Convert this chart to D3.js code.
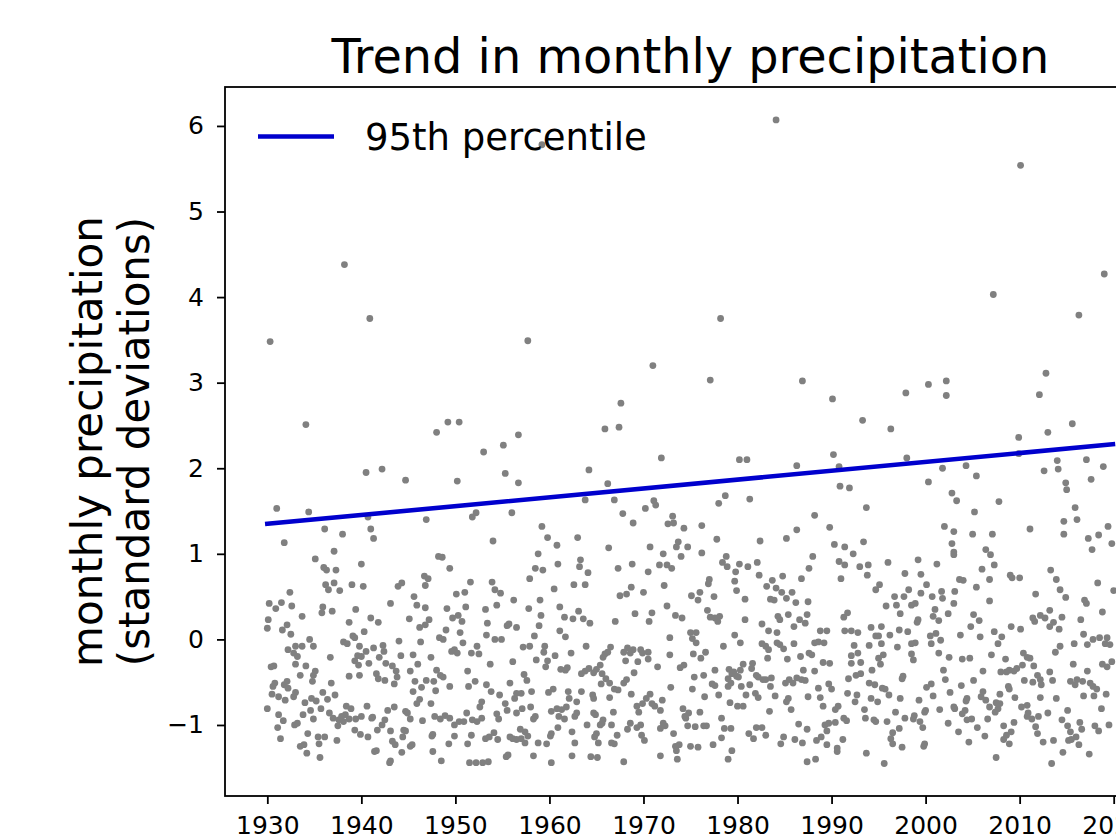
<!DOCTYPE html>
<html>
<head>
<meta charset="utf-8">
<script src="https://cdn.jsdelivr.net/npm/d3@7"></script>
<style>
  body { margin: 0; background: #fff; }
  svg { display: block; }
  text { font-family: "DejaVu Sans", sans-serif; fill: #000; }
</style>
</head>
<body>
<svg id="trendChart" width="1116" height="838"></svg>
<script>
// monthly precipitation anomalies, [year, standard deviations]
const points1930s = [
  [1931.0,1.53],[1934.4,1.49],[1931.8,1.13],[1936.1,1.29],[1938.0,1.23],[1940.7,1.43],[1941.0,1.29],[1941.3,1.18],
  [1937.1,1.03],[1935.1,0.94],[1936.0,0.84],[1936.3,0.81],[1937.3,0.81],[1940.0,0.88],
  [1936.2,0.64],[1936.5,0.58],[1937.1,0.66],[1937.7,0.57],[1939.0,0.64],[1940.2,0.62],[1932.4,0.55],
  [1930.2,0.42],[1930.9,0.36],[1931.5,0.43],[1932.6,0.39],[1935.9,0.38],[1935.8,0.31],[1936.9,0.33],[1939.4,0.35],
  [1933.7,0.27],[1930.1,0.23],[1930.0,0.13],[1932.1,0.17],[1931.6,0.11],[1932.5,0.06],[1938.7,0.20],[1941.0,0.25],
  [1940.3,0.09],[1939.1,0.04],[1939.3,0.02],[1934.5,0.00],[1934.9,-0.08],[1938.1,-0.03],[1938.5,-0.05],[1939.8,-0.08],
  [1932.2,-0.12],[1933.0,-0.08],[1933.7,-0.08],[1932.8,-0.16],[1933.2,-0.20],
  [1940.5,-0.14],[1939.6,-0.19],[1940.0,-0.20],[1939.3,-0.25],[1939.7,-0.30],[1940.8,-0.28],[1936.7,-0.21],
  [1933.0,-0.29],[1934.1,-0.31],[1930.4,-0.32],[1930.7,-0.31],[1935.1,-0.37],[1934.9,-0.42],[1934.8,-0.49],[1933.5,-0.42],
  [1938.7,-0.43],[1939.8,-0.42],
  [1930.8,-0.51],[1930.6,-0.55],[1932.1,-0.49],[1931.8,-0.53],[1932.2,-0.57],
  [1930.5,-0.64],[1931.2,-0.67],[1931.9,-0.71],[1932.8,-0.67],[1933.0,-0.62],[1936.8,-0.51],
  [1935.9,-0.62],[1937.2,-0.65],[1936.4,-0.70],[1934.0,-0.74],[1934.7,-0.69],[1935.2,-0.72],[1935.7,-0.81],
  [1930.0,-0.81],[1931.2,-0.88],[1931.7,-0.95],[1931.1,-1.03],[1931.4,-1.16],
  [1933.8,-0.88],[1934.6,-0.83],[1934.9,-0.93],
  [1936.6,-0.86],[1937.0,-0.92],[1937.6,-0.94],[1937.9,-0.90],[1938.3,-0.88],[1938.7,-0.93],[1938.1,-0.96],
  [1938.4,-0.78],[1938.9,-0.81],[1939.4,-0.93],[1940.0,-0.90],[1940.6,-0.78],[1941.1,-0.92],
  [1932.9,-1.00],[1933.2,-0.98],[1934.3,-1.10],[1937.5,-1.01],[1939.3,-1.06],[1939.9,-1.11],[1940.7,-1.14],
  [1935.4,-1.14],[1936.1,-1.14],[1935.5,-1.22],[1937.4,-1.18],[1933.5,-1.25],[1933.9,-1.23],[1934.2,-1.33],
  [1935.6,-1.38],[1941.4,-1.31]
];

const points1940s = [
  [1946.9,1.40],[1951.8,1.43],[1952.2,1.48],[1956.0,1.48],[1954.0,1.15],[1948.2,0.97],[1948.6,0.96],[1949.4,0.83],
  [1946.7,0.74],[1947.1,0.71],[1946.8,0.63],[1943.9,0.62],[1944.3,0.66],[1951.6,0.67],[1953.9,0.67],[1954.2,0.58],[1954.8,0.54],
  [1950.1,0.53],[1951.0,0.55],[1945.6,0.50],[1945.9,0.40],[1946.8,0.37],[1943.1,0.42],[1949.1,0.36],[1951.1,0.38],[1953.2,0.35],[1954.4,0.40],[1956.2,0.46],
  [1941.8,0.20],[1945.1,0.24],[1947.2,0.23],[1946.8,0.17],[1946.2,0.14],[1949.7,0.25],[1950.3,0.28],[1950.7,0.21],[1953.4,0.19],
  [1955.5,0.16],[1955.7,0.18],[1956.5,0.14],[1949.0,0.11],[1948.3,0.02],[1948.7,0.00],[1950.5,0.08],[1953.3,0.05],[1954.2,0.00],[1954.9,0.00],
  [1944.0,-0.02],[1946.3,-0.03],[1950.8,-0.04],[1952.3,-0.08],[1941.3,-0.10],[1942.3,-0.07],[1942.4,-0.14],[1941.9,-0.21],
  [1944.2,-0.19],[1945.5,-0.18],[1947.4,-0.21],[1949.6,-0.14],[1949.9,-0.12],[1950.2,-0.16],[1951.7,-0.16],[1952.5,-0.17],
  [1942.6,-0.28],[1943.3,-0.31],[1943.7,-0.37],[1943.8,-0.44],[1941.6,-0.40],[1941.8,-0.46],[1942.5,-0.48],
  [1946.0,-0.29],[1945.2,-0.37],[1948.0,-0.36],[1948.4,-0.42],[1948.7,-0.44],[1951.3,-0.37],[1953.7,-0.29],[1956.1,-0.26],
  [1943.5,-0.52],[1945.7,-0.49],[1946.9,-0.48],[1947.7,-0.49],[1946.4,-0.56],[1947.9,-0.60],[1945.5,-0.61],[1949.4,-0.55],
  [1951.4,-0.55],[1952.1,-0.49],[1953.3,-0.53],[1953.8,-0.61],[1955.8,-0.51],[1954.7,-0.65],[1956.5,-0.63],
  [1946.2,-0.70],[1945.9,-0.75],[1947.4,-0.75],[1952.8,-0.73],[1952.6,-0.79],[1955.3,-0.75],[1955.5,-0.83],[1956.3,-0.69],
  [1941.2,-0.91],[1943.5,-0.79],[1942.8,-0.83],[1942.5,-0.94],[1942.2,-1.00],[1941.7,-1.06],
  [1944.7,-0.84],[1944.9,-0.86],[1945.2,-0.93],[1946.5,-0.95],[1947.8,-0.90],[1948.4,-0.93],[1948.9,-0.89],[1949.4,-0.92],
  [1949.9,-1.00],[1950.4,-0.96],[1950.9,-0.96],[1951.2,-0.86],[1951.8,-0.94],[1952.3,-0.96],[1952.8,-0.92],[1954.4,-0.87],[1954.6,-0.93],[1956.5,-0.86],
  [1943.1,-1.07],[1944.5,-1.06],[1944.7,-1.07],[1944.4,-1.14],[1947.6,-1.11],[1947.5,-1.13],[1949.9,-1.13],[1949.3,-1.22],
  [1951.7,-1.12],[1951.3,-1.22],[1953.2,-1.16],[1953.6,-1.14],[1954.1,-1.09],[1954.5,-1.17],[1955.8,-1.14],[1956.1,-1.16],[1956.5,-1.17],
  [1941.6,-1.30],[1943.3,-1.19],[1943.6,-1.23],[1944.3,-1.32],[1945.2,-1.25],[1945.4,-1.23],[1947.6,-1.31],
  [1943.0,-1.44],[1943.1,-1.42],[1948.5,-1.42],[1951.5,-1.44],[1952.2,-1.44],[1952.9,-1.44],[1953.5,-1.43],[1955.4,-1.37],[1955.6,-1.35]
];

const points1950s = [
  [1967.8,1.47],[1968.9,1.36],[1970.2,1.53],[1971.3,1.57],[1959.2,1.32],[1959.8,1.19],[1960.8,1.10],[1963.0,1.19],
  [1958.8,1.00],[1966.3,1.07],[1970.7,1.08],[1972.1,1.00],[1963.3,0.93],[1963.2,0.85],[1964.1,0.78],[1960.9,0.88],
  [1958.5,0.83],[1959.3,0.81],[1957.9,0.71],[1960.5,0.59],[1962.6,0.64],[1963.8,0.64],[1967.3,0.83],[1968.8,0.88],[1970.5,0.79],[1971.7,0.87],[1972.2,0.63],
  [1967.5,0.51],[1968.2,0.53],[1968.7,0.61],[1970.0,0.55],[1959.0,0.46],[1957.8,0.36],[1961.1,0.38],[1959.1,0.28],
  [1961.6,0.26],[1962.5,0.24],[1963.1,0.33],[1963.6,0.24],[1964.3,0.19],[1967.0,0.21],[1969.1,0.30],[1970.9,0.31],[1970.6,0.21],
  [1958.9,0.16],[1958.4,0.04],[1961.1,0.10],[1961.7,0.03],[1957.2,-0.09],[1957.9,-0.08],[1959.5,-0.08],[1959.4,-0.15],[1963.9,-0.08],[1966.5,-0.09],
  [1960.6,-0.19],[1962.3,-0.16],[1958.6,-0.24],[1959.8,-0.25],[1959.6,-0.32],[1965.4,-0.30],[1965.7,-0.21],[1965.9,-0.17],[1966.2,-0.15],
  [1968.3,-0.10],[1967.9,-0.15],[1968.6,-0.16],[1968.1,-0.25],[1968.9,-0.12],[1969.7,-0.12],[1969.9,-0.16],[1970.5,-0.15],[1970.5,-0.23],[1969.4,-0.26],[1971.5,-0.32],
  [1961.2,-0.35],[1961.7,-0.36],[1961.9,-0.33],[1963.4,-0.40],[1963.8,-0.37],[1964.2,-0.34],[1964.7,-0.39],[1965.0,-0.35],
  [1957.3,-0.41],[1957.6,-0.48],[1965.6,-0.40],[1966.0,-0.46],[1966.4,-0.51],[1965.5,-0.52],[1966.9,-0.58],[1967.3,-0.59],
  [1968.2,-0.47],[1967.9,-0.51],[1969.0,-0.39],[1957.0,-0.63],[1958.1,-0.61],[1959.9,-0.62],[1960.4,-0.58],
  [1962.0,-0.61],[1962.1,-0.69],[1962.9,-0.73],[1963.4,-0.61],[1964.6,-0.65],[1964.7,-0.69],[1966.4,-0.68],[1968.7,-0.64],
  [1970.7,-0.64],[1970.3,-0.69],[1970.9,-0.75],[1971.2,-0.78],[1972.0,-0.71],[1969.3,-0.78],[1969.5,-0.85],[1969.9,-0.75],
  [1957.1,-0.81],[1958.0,-0.79],
  [1958.5,-0.90],[1958.3,-0.93],[1960.2,-0.84],[1960.8,-0.81],[1961.3,-0.82],[1961.8,-0.79],[1961.0,-0.90],[1961.6,-0.93],
  [1962.7,-0.90],[1962.9,-0.86],[1964.7,-0.86],[1964.9,-0.88],[1965.7,-0.94],[1965.4,-1.00],[1965.6,-0.98],[1966.8,-0.85],[1964.0,-1.00],[1966.6,-1.00],
  [1956.9,-1.05],[1957.4,-1.08],[1957.7,-1.13],[1957.0,-1.16],[1957.4,-1.21],[1958.8,-1.21],[1959.7,-1.22],[1960.1,-1.13],[1960.2,-1.10],
  [1960.9,-1.03],[1962.4,-1.08],[1962.7,-1.21],[1964.8,-1.14],[1965.0,-1.10],[1965.2,-1.21],[1967.2,-1.12],[1966.6,-1.21],[1966.9,-1.22],
  [1968.3,-1.05],[1968.6,-0.98],[1969.3,-1.03],[1969.7,-1.00],[1969.8,-1.12],[1970.1,-1.18],[1972.1,-0.98],
  [1958.3,-1.36],[1960.2,-1.44],[1962.4,-1.36],[1964.4,-1.37],[1965.1,-1.38],[1967.9,-1.43],[1971.8,-1.36]
];

const points1970s = [
  [1973.1,1.44],[1972.6,1.35],[1973.2,1.36],[1974.3,1.30],[1976.2,1.33],[1977.8,1.17],[1982.4,1.15],[1985.2,1.18],[1986.3,1.28],
  [1973.7,1.14],[1973.5,1.08],[1974.7,1.08],[1974.0,0.97],
  [1976.2,1.01],[1978.8,0.97],[1978.4,0.90],[1978.9,0.85],[1980.2,0.88],[1981.1,0.85],[1982.1,0.90],[1979.8,0.79],[1972.5,0.87],[1973.0,0.83],
  [1977.0,0.70],[1976.9,0.65],[1979.7,0.68],[1979.9,0.57],[1982.3,0.75],[1983.1,0.62],[1983.7,0.69],[1984.1,0.60],[1984.8,0.74],[1986.8,0.71],[1987.6,0.83],
  [1975.1,0.51],[1975.8,0.46],[1976.0,0.55],[1977.5,0.50],[1980.8,0.47],[1983.5,0.47],[1983.9,0.46],[1984.7,0.55],[1985.2,0.48],[1985.8,0.55],[1986.2,0.43],[1987.5,0.44],
  [1972.5,0.39],[1976.8,0.34],[1977.1,0.26],[1977.6,0.25],[1978.1,0.27],[1977.9,0.21],[1980.8,0.23],[1973.4,0.28],[1974.1,0.25],
  [1984.3,0.27],[1984.5,0.23],[1985.4,0.29],[1986.6,0.23],[1987.2,0.19],[1987.4,0.29],[1982.6,0.18],[1986.0,0.15],
  [1975.0,0.08],[1975.6,0.08],[1975.2,0.01],[1975.6,-0.04],[1972.8,0.02],[1979.7,0.05],[1980.3,-0.04],[1978.5,-0.08],
  [1983.3,0.10],[1984.2,0.08],[1982.6,-0.05],[1983.0,-0.08],[1983.3,-0.12],[1984.2,-0.04],[1984.5,-0.06],[1984.9,-0.11],[1986.0,-0.05],[1987.6,-0.16],
  [1972.8,-0.18],[1975.3,-0.17],[1976.1,-0.22],[1976.6,-0.15],[1973.9,-0.33],[1974.3,-0.30],[1977.6,-0.36],
  [1980.6,-0.29],[1980.3,-0.36],[1981.6,-0.28],[1981.5,-0.34],[1979.1,-0.35],[1979.6,-0.38],[1979.4,-0.40],[1982.0,-0.42],[1982.2,-0.44],[1983.2,-0.22],
  [1985.3,-0.23],[1986.7,-0.20],[1987.0,-0.36],[1975.4,-0.44],[1976.4,-0.42],[1977.3,-0.52],[1977.6,-0.54],
  [1979.0,-0.46],[1979.3,-0.51],[1979.9,-0.43],[1980.1,-0.44],[1979.0,-0.55],[1980.4,-0.55],[1981.3,-0.53],[1980.9,-0.65],
  [1982.7,-0.47],[1983.0,-0.47],[1983.6,-0.45],[1983.5,-0.55],[1984.0,-0.66],
  [1985.1,-0.51],[1985.5,-0.47],[1985.9,-0.51],[1986.3,-0.45],[1986.8,-0.47],[1987.2,-0.48],[1987.5,-0.67],
  [1972.9,-0.56],[1975.2,-0.58],[1976.5,-0.67],[1978.0,-0.65],[1981.9,-0.63],[1982.2,-0.68],[1971.8,-0.83],
  [1979.2,-0.74],[1980.0,-0.78],[1980.6,-0.78],[1985.4,-0.69],[1985.2,-0.73],[1985.7,-0.82],[1983.4,-0.84],
  [1974.2,-0.81],[1974.4,-0.90],[1974.8,-0.86],[1974.5,-0.92],[1976.0,-0.85],[1978.3,-0.92],[1971.8,-1.04],[1972.3,-1.01],
  [1974.7,-1.01],[1975.5,-1.02],[1976.4,-1.01],[1976.7,-1.01],[1978.6,-1.04],[1979.3,-1.04],[1982.0,-1.03],[1982.6,-1.03],
  [1981.2,-1.10],[1981.7,-1.16],[1983.0,-1.12],[1986.5,-0.99],[1987.4,-1.05],[1973.2,-1.10],[1978.3,-1.15],
  [1984.9,-1.14],[1984.6,-1.22],[1986.1,-1.17],[1986.9,-1.21],
  [1973.4,-1.25],[1973.8,-1.23],[1973.5,-1.30],[1973.6,-1.40],[1975.0,-1.25],[1975.8,-1.26],[1977.4,-1.23],
  [1979.4,-1.30],[1979.0,-1.40],[1987.4,-1.43]
];

const points1980s = [
  [1993.7,1.54],[1988.2,1.45],[1989.8,1.31],[2002.0,1.32],[2003.0,1.26],
  [1990.3,1.11],[1991.4,1.08],[1992.3,1.00],[1993.4,1.14],[1988.0,0.97],
  [1990.8,0.91],[1991.4,0.87],[1993.0,0.85],[1993.9,0.87],[1993.8,0.75],[1996.0,0.90],[1991.0,0.71],
  [1999.2,0.93],[1997.8,0.77],[1999.5,0.76],[2001.2,0.88],[2002.8,1.12],[2003.0,1.02],[2003.0,0.99],
  [1995.1,0.64],[1994.7,0.58],[1998.2,0.58],[1997.7,0.50],[1996.7,0.50],[1996.9,0.40],[1999.5,0.54],[2000.1,0.64],[2000.7,0.50],[2001.7,0.56],[2001.8,0.48],
  [1995.8,0.39],[1998.5,0.40],[1998.9,0.42],[1997.3,0.30],[2001.0,0.35],[2000.8,0.27],[2001.4,0.22],[2002.4,0.30],[2003.0,0.42],
  [1991.3,0.26],[1991.7,0.31],[1999.2,0.23],[1999.1,0.20],
  [1988.8,0.10],[1989.5,0.10],[1988.6,-0.03],[1989.2,-0.04],[1988.2,-0.04],[1991.4,0.10],[1992.1,0.10],[1992.8,0.08],
  [1994.2,0.14],[1995.3,0.15],[1994.7,0.04],[1995.0,0.04],[1996.2,0.05],[1997.2,0.11],[1998.1,0.09],
  [1992.4,-0.07],[1994.0,-0.07],[1995.3,-0.05],[1997.0,-0.09],[1998.5,-0.05],[1998.9,-0.04],[1998.5,-0.17],[1998.7,-0.24],
  [2000.5,0.04],[2001.1,0.07],[2001.6,-0.01],[2000.6,-0.05],[1987.9,-0.18],
  [1989.1,-0.27],[1989.8,-0.28],[1992.1,-0.19],[1992.8,-0.16],[1992.1,-0.28],[1993.1,-0.27],[1995.0,-0.22],[1995.5,-0.18],[1995.2,-0.29],
  [2001.4,-0.16],[2002.5,-0.21],[1988.2,-0.37],[1991.8,-0.46],[1992.6,-0.42],[1993.1,-0.40],[1994.3,-0.36],[1997.5,-0.46],[1997.6,-0.43],
  [2001.9,-0.36],[2002.1,-0.47],[1989.7,-0.52],[1990.0,-0.58],[1988.6,-0.57],[1988.8,-0.68],
  [1991.7,-0.63],[1992.7,-0.65],[1992.5,-0.73],[1994.0,-0.51],[1994.6,-0.53],[1995.4,-0.57],[1995.7,-0.58],[1996.1,-0.65],
  [1994.2,-0.69],[1994.9,-0.73],[1997.3,-0.69],[2000.1,-0.56],[2000.6,-0.52],[2000.8,-0.66],[1999.3,-0.71],[2002.6,-0.62],
  [1989.1,-0.78],[1990.7,-0.78],[1990.4,-0.82],[1993.5,-0.82],[1993.6,-0.92],[1996.8,-0.85],[1994.5,-0.94],[1994.7,-0.96],
  [1995.9,-0.96],[1997.8,-0.92],[1998.7,-0.93],[1998.8,-0.89],[2000.0,-0.83],[1999.9,-0.85],[1999.4,-0.96],[1999.7,-1.03],
  [2001.5,-0.82],[2003.0,-0.79],[2002.4,-0.98],
  [1989.3,-1.00],[1989.7,-0.98],[1989.5,-1.07],[1988.9,-1.14],[1988.4,-1.18],[1990.4,-0.97],[1991.3,-0.92],[1991.6,-0.95],[1991.2,-1.17],
  [1996.5,-1.09],[1996.3,-1.16],[1996.5,-1.22],[1997.2,-1.04],[1989.5,-1.23],[1990.6,-1.27],[1990.6,-1.31],[1997.5,-1.26],
  [1999.8,-1.25],[1999.9,-1.22],[1988.3,-1.40],[1993.7,-1.33],[1995.6,-1.45]
];

const points2000s = [
  [2005.2,1.49],[2011.1,1.29],[2015.9,1.54],[2016.1,1.40],[2014.7,1.38],[2014.7,1.23],
  [2019.4,1.32],[2018.4,1.22],[2017.3,1.18],[2017.7,1.05],[2019.8,1.12],
  [2005.0,1.23],[2007.1,1.23],[2006.4,1.05],[2006.9,0.99],[2007.3,0.87],[2006.0,0.82],[2003.6,0.70],[2004.0,0.69],[2006.8,0.70],
  [2009.0,0.75],[2009.2,0.72],[2010.0,0.72],[2013.3,0.81],[2013.9,0.70],[2014.3,0.58],[2014.9,0.49],[2018.3,0.66],[2020.0,0.57],
  [2005.4,0.61],[2003.1,0.56],[2006.8,0.45],[2011.7,0.53],[2016.9,0.46],[2017.1,0.42],
  [2013.2,0.34],[2012.2,0.28],[2012.7,0.25],[2011.4,0.25],[2011.6,0.21],[2014.5,0.26],[2013.6,0.20],[2013.2,0.15],[2014.2,0.12],
  [2016.5,0.23],[2018.8,0.32],[2005.1,0.29],[2005.7,0.22],[2004.8,0.15],[2009.1,0.15],[2010.1,0.12],[2003.7,0.05],[2005.8,0.03],
  [2007.3,0.09],[2008.1,0.03],[2007.7,-0.05],[2016.8,0.06],[2017.8,0.00],[2018.5,0.02],[2019.3,0.02],[2019.1,-0.05],[2019.6,-0.06],[2017.2,-0.06],
  [2015.8,-0.05],[2014.3,-0.08],[2013.8,-0.15],[2007.0,-0.18],[2010.4,-0.16],[2010.8,-0.21],[2011.1,-0.22],[2003.9,-0.23],[2004.7,-0.22],
  [2008.5,-0.23],[2015.7,-0.29],[2018.8,-0.29],[2019.8,-0.26],[2019.3,-0.32],[2010.3,-0.30],[2009.7,-0.34],[2009.4,-0.37],[2011.5,-0.31],
  [2006.1,-0.37],[2008.0,-0.38],[2008.6,-0.38],[2008.9,-0.36],[2011.9,-0.42],[2012.2,-0.47],[2012.3,-0.53],[2011.4,-0.50],
  [2013.2,-0.38],[2013.5,-0.48],[2010.5,-0.48],[2017.2,-0.37],
  [2015.4,-0.49],[2015.9,-0.53],[2016.1,-0.47],[2016.7,-0.49],[2017.5,-0.51],[2017.8,-0.55],[2018.2,-0.58],[2017.9,-0.66],
  [2005.1,-0.48],[2003.8,-0.54],[2008.8,-0.55],[2008.9,-0.58],[2006.1,-0.61],[2005.9,-0.67],[2006.4,-0.71],[2004.3,-0.72],[2004.4,-0.69],
  [2007.9,-0.64],[2007.5,-0.74],[2009.5,-0.68],[2012.2,-0.68],[2013.9,-0.69],[2016.8,-0.66],[2019.2,-0.64],
  [2003.1,-0.81],[2004.2,-0.83],[2003.9,-0.87],[2004.9,-0.93],[2004.4,-0.94],[2006.8,-0.79],[2006.6,-0.93],
  [2007.9,-0.75],[2007.7,-0.81],[2007.4,-0.85],[2010.2,-0.79],[2010.8,-0.77],[2010.9,-0.86],[2010.8,-0.90],[2011.3,-0.93],
  [2012.0,-0.90],[2013.0,-0.86],[2015.1,-0.83],[2018.7,-0.81],
  [2003.5,-1.08],[2005.5,-1.03],[2006.3,-1.13],[2008.3,-1.01],[2009.4,-0.97],[2009.1,-1.08],[2008.6,-1.12],[2008.3,-1.17],[2008.9,-1.22],
  [2011.7,-1.02],[2011.9,-1.10],[2012.5,-1.20],[2013.6,-1.18],
  [2014.5,-0.94],[2015.1,-1.01],[2015.4,-1.08],[2015.2,-1.18],[2015.5,-1.17],[2016.0,-1.14],[2016.4,-0.97],[2016.6,-1.05],[2016.3,-1.23],
  [2018.0,-1.01],[2018.4,-1.07],[2019.5,-1.00],[2004.6,-1.20],[2007.5,-1.38],[2014.6,-1.32],[2013.4,-1.45],[2017.4,-1.34]
];

// the wetter months, above about 1.6
const highPoints = [
  [1930.3,3.48],[1934.1,2.51],[1938.2,4.38],[1940.9,3.75],[1940.5,1.95],[1942.2,1.99],[1944.7,1.86],[1948.0,2.42],
  [1949.2,2.54],[1950.4,2.54],[1950.2,1.85],[1953.0,2.19],[1955.1,2.27],[1956.7,2.39],[1955.3,1.94],[1956.7,1.83],
  [1957.7,3.49],[1959.2,5.78],[1964.2,1.98],[1965.9,2.46],[1967.4,2.48],[1967.6,2.76],[1971.0,3.20],[1971.9,2.12],
  [1966.2,1.82],[1963.8,1.63],[1966.9,1.63],[1971.1,1.62],
  [1984.1,6.07],[2010.1,5.54],[1978.2,3.75],[1977.1,3.03],[1986.9,3.02],[1990.1,2.81],[1993.3,2.56],[1996.3,2.46],
  [1997.9,2.88],[2000.3,2.98],[2002.2,3.02],[2002.2,2.85],[2007.2,4.03],[2019.0,4.27],[2016.3,3.79],[2012.8,3.11],
  [2012.1,2.86],[2009.9,2.36],[2013.0,2.42],[2015.6,2.52],[2009.9,2.17],[1980.2,2.10],[1981.0,2.10],[1986.3,2.03],
  [1990.2,2.16],[1990.8,2.02],[1998.0,2.12],[2001.8,2.00],[2004.3,2.03],[2005.4,1.91],[2014.0,2.09],[2014.1,1.99],
  [2012.6,1.97],[2017.1,2.10],[2018.9,2.02],[2017.6,1.87],[2014.9,1.83],[2015.0,1.75],[1990.9,1.79],[1991.9,1.77],
  [2000.3,1.84],[1978.7,1.68],[1981.3,1.64],[2002.8,1.71],[2003.3,1.62],[2007.8,1.61],[1978.0,1.59]
];

// 95th percentile trend line
const trendYears = [1930, 2019.92];
const trendValues = [1.35, 2.28];

const xTicks = [1930, 1940, 1950, 1960, 1970, 1980, 1990, 2000, 2010, 2020];
const yTicks = [-1, 0, 1, 2, 3, 4, 5, 6];

const allPoints = points1930s.concat(points1940s, points1950s, points1970s, points1980s, points2000s, highPoints);

var svg = d3.select("#trendChart"),
  plot = { left: 225, top: 87, right: 1156, bottom: 796 };

var x = d3.scaleLinear().domain([1925.5, 2024.5]).range([plot.left, plot.right]);
var y = d3.scaleLinear().domain([-1.83, 6.455]).range([plot.bottom, plot.top]);

svg.append("rect")
  .attr("width", 1116)
  .attr("height", 838)
  .attr("fill", "#fff");

// scatter
svg.append("g")
  .selectAll("circle")
  .data(allPoints)
  .enter()
  .append("circle")
  .attr("cx", function(d) { return x(d[0]); })
  .attr("cy", function(d) { return y(d[1]); })
  .attr("r", 3.4)
  .attr("fill", "#808080");

// trend line
var trend = trendYears.map(function(yr, i) { return [yr, trendValues[i]]; });
svg.append("path")
  .datum(trend)
  .attr("fill", "none")
  .attr("stroke", "#0000cd")
  .attr("stroke-width", 4.6)
  .attr("stroke-linecap", "square")
  .attr("d", d3.line().x(function(d) { return x(d[0]); }).y(function(d) { return y(d[1]); }));

// axes
var xAxis = svg.append("g")
  .attr("transform", "translate(0," + plot.bottom + ")")
  .call(d3.axisBottom(x).tickValues(xTicks).tickFormat(d3.format("d")).tickSize(8).tickPadding(12));

var yAxis = svg.append("g")
  .attr("transform", "translate(" + plot.left + ",0)")
  .call(d3.axisLeft(y).tickValues(yTicks).tickFormat(d3.format("d")).tickSize(8).tickPadding(13));

[xAxis, yAxis].forEach(function(ax) {
  ax.attr("font-family", null).attr("font-size", null);
  ax.select(".domain").remove();
  ax.selectAll(".tick line").attr("stroke", "#000").attr("stroke-width", 1.8);
  ax.selectAll(".tick text").style("font-size", "25px");
});

// spines
svg.append("rect")
  .attr("x", plot.left)
  .attr("y", plot.top)
  .attr("width", plot.right - plot.left)
  .attr("height", plot.bottom - plot.top)
  .attr("fill", "none")
  .attr("stroke", "#000")
  .attr("stroke-width", 1.8);

// title and labels
svg.append("text")
  .attr("x", (plot.left + plot.right) / 2)
  .attr("y", 73)
  .attr("text-anchor", "middle")
  .style("font-size", "47.8px")
  .text("Trend in monthly precipitation");

var midY = (plot.top + plot.bottom) / 2;
svg.append("text")
  .attr("transform", "translate(102," + midY + ") rotate(-90)")
  .attr("text-anchor", "middle")
  .style("font-size", "42px")
  .text("monthly precipitation");
svg.append("text")
  .attr("transform", "translate(149," + midY + ") rotate(-90)")
  .attr("text-anchor", "middle")
  .style("font-size", "42px")
  .text("(standard deviations)");

// legend
var legend = svg.append("g").attr("transform", "translate(258,136.5)");
legend.append("line")
  .attr("x1", 0).attr("x2", 76)
  .attr("stroke", "#0000cd")
  .attr("stroke-width", 4.6);
legend.append("text")
  .attr("x", 107)
  .attr("y", 13.5)
  .style("font-size", "37px")
  .text("95th percentile");
</script>
</body>
</html>
